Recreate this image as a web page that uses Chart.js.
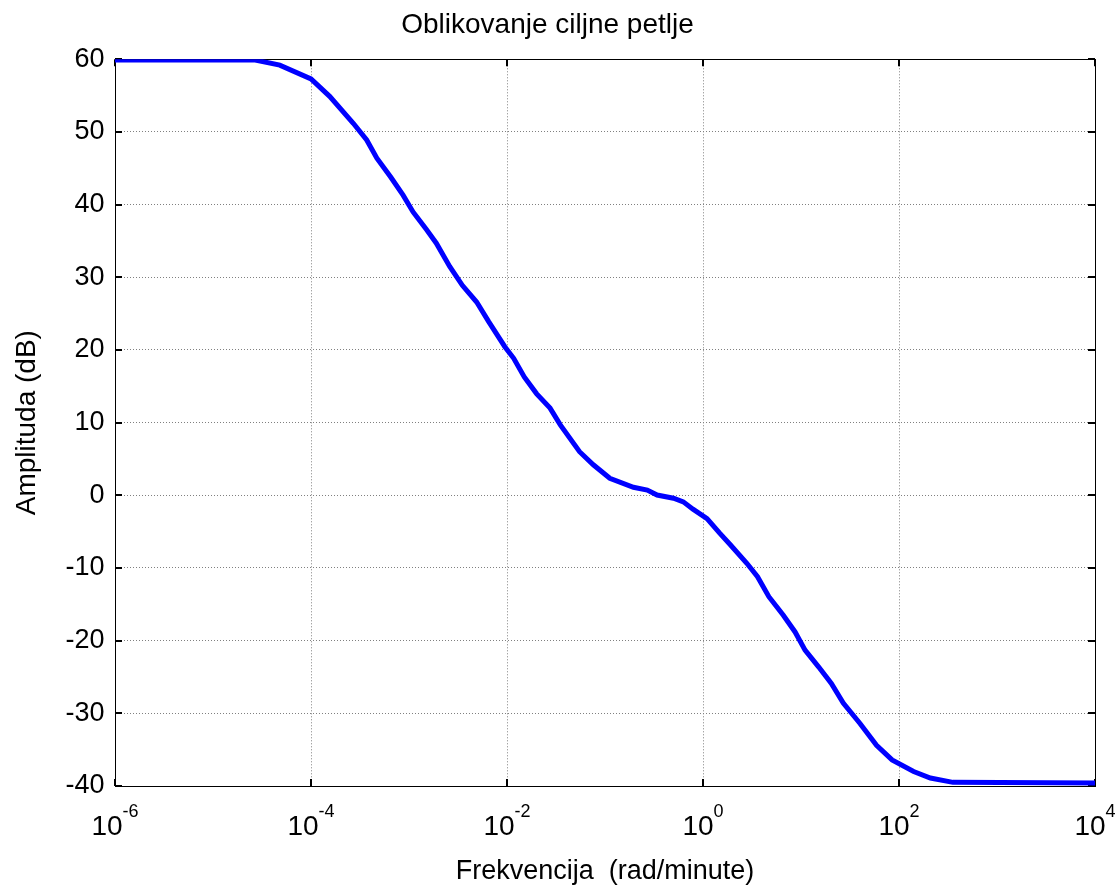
<!DOCTYPE html>
<html><head><meta charset="utf-8">
<script src="https://cdn.jsdelivr.net/npm/chart.js@4/dist/chart.umd.min.js"></script>
<style>html,body{margin:0;padding:0;background:#fff}#wrap{width:1119px;height:889px}</style>
</head><body><div id="wrap"><canvas id="c" width="1119" height="889"></canvas></div>
<script>
const chartTitle = 'Oblikovanje ciljne petlje';
const xAxisTitle = 'Frekvencija  (rad/minute)';
const yAxisTitle = 'Amplituda (dB)';

const frequencies = [1e-6, 2.7e-5, 4.8e-5, 1.0e-4, 1.55e-4, 2.7e-4, 3.7e-4, 4.7e-4, 6.5e-4, 8.7e-4,
  1.1e-3, 1.5e-3, 1.9e-3, 2.6e-3, 3.5e-3, 4.9e-3, 6.5e-3, 9.5e-3, 1.17e-2, 1.5e-2,
  2.0e-2, 2.75e-2, 3.5e-2, 5.5e-2, 7.6e-2, 0.112, 0.195, 0.27, 0.34, 0.5,
  0.63, 0.79, 1.1, 1.48, 1.9, 2.8, 3.6, 4.7, 6.6, 8.7,
  11, 15.1, 20.4, 27, 40, 59, 85, 141, 209, 355, 1e4];
const amplitudeDb = [59.9, 59.9, 59.2, 57.3, 54.9, 51.2, 48.9, 46.4, 43.8, 41.3,
  39.0, 36.6, 34.7, 31.5, 28.9, 26.6, 23.9, 20.45, 18.85, 16.3,
  14.0, 12.0, 9.7, 6.0, 4.2, 2.35, 1.1, 0.73, 0.04, -0.4,
  -0.9, -1.9, -3.2, -5.2, -6.8, -9.35, -11.2, -13.95, -16.5, -18.8,
  -21.3, -23.6, -25.9, -28.6, -31.4, -34.4, -36.4, -38.0, -38.9, -39.5, -39.6];

const xTickValues = [1e-6, 1e-4, 1e-2, 1, 1e2, 1e4];
const xTickBase = '10';
const xTickExponents = ['-6', '-4', '-2', '0', '2', '4'];
const yTickValues = [-40, -30, -20, -10, 0, 10, 20, 30, 40, 50, 60];

const FONT = "'Liberation Sans', Arial, sans-serif";

const framePlugin = {
  id: 'frame',
  beforeDatasetsDraw(chart) {
    const {ctx, chartArea: a, scales: {x, y}} = chart;
    ctx.save();
    ctx.strokeStyle = '#000';
    ctx.lineWidth = 1;
    ctx.strokeRect(Math.round(a.left) + 0.5, Math.round(a.top) + 0.5,
      Math.round(a.right - a.left), Math.round(a.bottom - a.top));
    ctx.lineWidth = 2;
    const tl = 7;
    ctx.beginPath();
    xTickValues.forEach(v => {
      const px = Math.round(x.getPixelForValue(v));
      ctx.moveTo(px, a.bottom); ctx.lineTo(px, a.bottom - tl);
      ctx.moveTo(px, a.top); ctx.lineTo(px, a.top + tl);
    });
    yTickValues.forEach(v => {
      const py = Math.round(y.getPixelForValue(v));
      ctx.moveTo(a.left, py); ctx.lineTo(a.left + tl, py);
      ctx.moveTo(a.right, py); ctx.lineTo(a.right - tl, py);
    });
    ctx.stroke();
    ctx.restore();
  },
  afterDraw(chart) {
    const {ctx, scales: {x}} = chart;
    ctx.save();
    ctx.fillStyle = '#000';
    ctx.textBaseline = 'alphabetic';
    ctx.textAlign = 'left';
    xTickValues.forEach((v, i) => {
      const px = x.getPixelForValue(v);
      ctx.font = '28px ' + FONT;
      const wb = ctx.measureText(xTickBase).width;
      ctx.font = '18px ' + FONT;
      const we = ctx.measureText(xTickExponents[i]).width;
      const start = px - (wb + we) / 2;
      ctx.font = '28px ' + FONT;
      ctx.fillText(xTickBase, start, 835);
      ctx.font = '18px ' + FONT;
      ctx.fillText(xTickExponents[i], start + wb, 817);
    });
    ctx.restore();
  }
};

new Chart(document.getElementById('c'), {
  type: 'line',
  data: {
    datasets: [{
      data: frequencies.map((f, i) => ({x: f, y: amplitudeDb[i]})),
      borderColor: '#0000ff',
      borderWidth: 5,
      pointRadius: 0,
      tension: 0,
      fill: false
    }]
  },
  options: {
    responsive: false,
    animation: false,
    devicePixelRatio: 1,
    layout: {padding: {left: 0, right: 24, top: 0, bottom: 0}},
    plugins: {
      legend: {display: false},
      tooltip: {enabled: false},
      title: {
        display: true, text: chartTitle, color: '#000',
        font: {family: FONT, size: 28, weight: 'normal'},
        padding: {top: 8.4, bottom: 17.3}
      }
    },
    scales: {
      x: {
        type: 'logarithmic', min: 1e-6, max: 1e4,
        afterBuildTicks: s => { s.ticks = xTickValues.map(v => ({value: v})); },
        afterFit: s => { s.height = 103; },
        ticks: {display: false},
        grid: {color: '#808080', lineWidth: 1, drawTicks: false},
        border: {display: false, dash: [1, 2]},
        title: {display: true, text: xAxisTitle, color: '#000',
          font: {family: FONT, size: 27}, padding: {top: 0, bottom: 1.3}}
      },
      y: {
        min: -40, max: 60,
        afterBuildTicks: s => { s.ticks = yTickValues.map(v => ({value: v})); },
        afterFit: s => { s.width = 115; },
        ticks: {color: '#000', font: {family: FONT, size: 27}, padding: 10.5},
        grid: {color: '#808080', lineWidth: 1, drawTicks: false},
        border: {display: false, dash: [1, 2]},
        title: {display: true, text: yAxisTitle, color: '#000',
          font: {family: FONT, size: 28}, padding: {top: 10, bottom: 0}}
      }
    }
  },
  plugins: [framePlugin]
});
</script></body></html>
